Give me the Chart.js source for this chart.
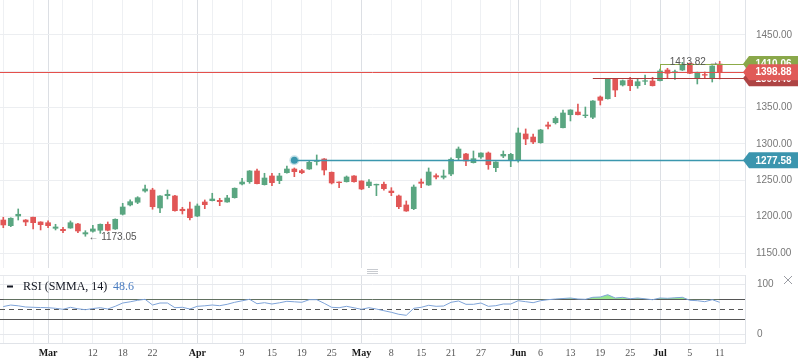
<!DOCTYPE html>
<html>
<head>
<meta charset="utf-8">
<script src="https://cdn.jsdelivr.net/npm/chart.js@4"></script>
<style>
html, body { margin: 0; padding: 0; background: #fff; }
#wrap { position: relative; width: 798px; height: 363px; overflow: hidden; }
canvas { position: absolute; left: 0; }
#price { top: 0; }
#rsi { top: 268px; }
</style>
</head>
<body>
<div id="wrap">
  <canvas id="price" width="798" height="268"></canvas>
  <canvas id="rsi" width="798" height="95"></canvas>
</div>
<script>
// daily bars, Feb 21 - Jul 11
const dates = [
  'Feb 21','Feb 22','Feb 25','Feb 26','Feb 27','Feb 28',
  'Mar 1','Mar 5','Mar 6','Mar 7','Mar 8','Mar 11','Mar 12','Mar 13','Mar 14','Mar 15','Mar 18','Mar 19','Mar 20','Mar 21','Mar 22','Mar 25','Mar 26','Mar 27','Mar 28','Mar 29',
  'Apr 1','Apr 2','Apr 3','Apr 4','Apr 5','Apr 8','Apr 9','Apr 10','Apr 11','Apr 12','Apr 15','Apr 16','Apr 17','Apr 18','Apr 19','Apr 22','Apr 23','Apr 24','Apr 25','Apr 26','Apr 29','Apr 30',
  'May 2','May 3','May 6','May 7','May 8','May 9','May 10','May 13','May 15','May 16','May 17','May 20','May 21','May 22','May 23','May 24','May 27','May 28','May 29','May 30','May 31',
  'Jun 3','Jun 4','Jun 5','Jun 6','Jun 7','Jun 10','Jun 11','Jun 13','Jun 14','Jun 17','Jun 18','Jun 19','Jun 20','Jun 21','Jun 24','Jun 25','Jun 26','Jun 27','Jun 28',
  'Jul 1','Jul 2','Jul 3','Jul 4','Jul 5','Jul 8','Jul 9','Jul 10','Jul 11'
];

const opens = [
  1195.4,1187.6,1200.9,1195.4,1199.2,1192.7,1191.7,1184.0,1182.6,1184.4,
  1189.9,1176.2,1179.9,1181.3,1189.5,1183.1,1203.3,1216.1,1219.8,1235.3,
  1236.7,1212.0,1228.9,1228.5,1210.2,1210.6,1200.9,1220.2,1222.0,1222.5,
  1220.2,1226.1,1245.0,1248.1,1262.9,1244.0,1256.0,1249.5,1260.5,1265.6,
  1263.3,1265.6,1275.9,1279.4,1261.1,1247.7,1248.1,1256.0,1249.1,1242.6,
  1243.6,1244.6,1235.3,1228.5,1216.1,1211.0,1247.7,1243.6,1256.4,1254.2,
  1258.7,1281.2,1286.3,1274.3,1282.1,1287.6,1267.4,1283.5,1278.0,1278.0,
  1313.8,1309.6,1301.8,1326.2,1329.3,1322.4,1340.3,1344.0,1339.0,1336.8,
  1364.7,1362.3,1389.5,1381.2,1388.1,1380.2,1386.3,1386.7,1387.1,1401.8,
  1398.1,1401.8,1411.1,1391.2,1395.6,1390.4,1410.06
];
const highs = [
  1199.2,1198.5,1210.6,1196.0,1199.5,1193.0,1194.1,1189.5,1185.4,1194.1,
  1190.9,1180.7,1188.1,1190.0,1192.7,1197.0,1218.4,1223.0,1227.5,1243.6,
  1239.1,1229.0,1236.7,1229.4,1212.9,1220.2,1217.5,1223.0,1232.2,1225.3,
  1229.4,1239.6,1252.8,1263.5,1265.6,1259.7,1259.7,1259.7,1269.7,1267.0,
  1265.2,1277.0,1284.9,1280.0,1261.5,1247.8,1256.0,1256.5,1249.5,1250.9,
  1244.8,1247.7,1239.9,1229.8,1221.6,1243.6,1251.9,1267.0,1259.1,1264.2,
  1280.8,1295.9,1287.0,1290.4,1288.0,1289.0,1275.6,1290.4,1287.2,1322.0,
  1320.7,1313.8,1320.2,1330.3,1337.6,1346.8,1347.2,1355.1,1350.9,1359.6,
  1366.1,1390.4,1390.0,1388.1,1391.8,1389.5,1395.0,1391.8,1403.2,1404.2,
  1401.8,1412.4,1411.5,1399.0,1399.1,1407.8,1413.82
];
const lows = [
  1184.8,1186.2,1195.4,1187.6,1183.1,1181.7,1184.8,1181.7,1178.0,1184.0,
  1178.0,1173.05,1178.5,1177.1,1180.5,1182.5,1202.3,1214.7,1217.9,1233.6,
  1210.2,1205.5,1224.3,1207.5,1203.7,1195.4,1200.0,1211.0,1221.6,1215.1,
  1219.8,1225.5,1243.6,1245.9,1245.0,1243.5,1242.6,1245.4,1260.0,1255.0,
  1259.1,1265.0,1271.1,1257.4,1245.0,1239.9,1247.6,1247.5,1237.1,1239.9,
  1228.9,1236.3,1228.9,1211.0,1207.3,1209.6,1239.9,1243.0,1251.9,1251.9,
  1256.4,1278.4,1270.2,1273.8,1280.3,1265.2,1261.9,1281.2,1268.8,1275.0,
  1299.1,1300.4,1301.0,1320.7,1327.5,1322.0,1331.7,1340.0,1336.2,1334.8,
  1353.7,1361.8,1365.1,1379.8,1373.4,1376.7,1381.6,1379.8,1386.7,1390.4,
  1389.0,1401.0,1396.8,1382.6,1390.8,1385.3,1389.5
];
const closes = [
  1188.6,1197.8,1203.3,1192.7,1191.7,1189.0,1187.6,1185.8,1180.7,1191.7,
  1180.3,1178.0,1183.1,1189.5,1181.3,1196.4,1213.3,1220.6,1226.1,1238.1,
  1213.7,1228.5,1230.8,1208.2,1208.2,1198.6,1214.7,1216.5,1224.3,1220.6,
  1225.7,1239.1,1247.7,1262.9,1245.4,1253.2,1246.8,1256.0,1265.6,1261.9,
  1260.5,1274.8,1277.0,1264.2,1246.4,1246.8,1254.6,1248.1,1238.1,1247.7,
  1244.6,1238.5,1233.0,1213.7,1207.8,1240.8,1245.9,1261.5,1254.6,1256.0,
  1279.0,1293.1,1276.6,1279.8,1287.6,1271.5,1275.2,1285.8,1285.8,1315.2,
  1306.9,1302.8,1319.3,1324.4,1335.4,1342.7,1346.8,1340.3,1339.9,1359.2,
  1360.1,1389.5,1374.3,1387.1,1380.2,1385.7,1387.1,1380.2,1400.5,1397.3,
  1399.5,1408.7,1397.3,1398.7,1394.7,1407.3,1398.88
];

const rsi = [
  55.5,58.5,57.0,54.6,54.0,53.5,53.2,52.0,50.0,54.0,
  51.0,49.2,51.5,53.2,50.6,56.0,62.6,65.0,68.0,70.0,
  58.6,62.6,62.6,53.2,54.0,50.6,56.0,57.0,58.6,57.2,
  60.0,64.0,67.0,70.0,61.2,63.2,60.6,63.0,66.0,65.0,
  64.0,69.2,69.2,62.0,54.0,53.2,56.0,53.0,50.0,53.2,
  50.5,47.2,44.0,40.0,38.0,52.0,54.0,58.0,56.0,56.6,
  64.0,66.6,60.0,60.0,62.6,56.0,57.2,60.6,60.6,67.2,
  65.2,63.2,67.2,69.2,70.6,71.6,72.6,70.6,70.0,74.0,
  74.6,79.2,72.6,74.0,71.2,72.6,71.0,69.2,72.6,72.0,
  73.0,74.0,68.0,67.2,65.2,69.2,64.0
];
const rsiReadout = 48.6;
const rsiLevels = [70, 50, 30];

const priceTicks = [1150, 1200, 1250, 1300, 1350, 1400, 1450];
const rsiTicks = [0, 100];
const gridIdx = [0,4,6,8,12,16,20,24,26,28,32,36,40,44,48,52,56,60,64,68,69,72,76,80,84,88,92,96];
const unlabeled = [0, 4, 8, 24, 28, 68];

const lastClose = 1398.88;
const rangeTop = 1410.06, rangeFrom = 88;
const prevLevel = 1390.40, prevFrom = 79;
const support = 1277.58, supportFrom = 39;
const periodHigh = 1413.82, highIdx = 96;
const periodLow = 1173.05, lowIdx = 11;

const UP = '#5aa681', DOWN = '#e15656';
const idx = dates.map((d, i) => i);
const colors = idx.map(i => closes[i] >= opens[i] ? UP : DOWN);
const isMonthStart = i => i > 0 && i < dates.length && dates[i].slice(0, 3) !== dates[i - 1].slice(0, 3);
const tickMonth = c => !!(c && c.tick && isMonthStart(c.tick.value));
const AXIS_FONT = { family: 'Liberation Sans', size: 10 };
const X_MIN = -0.442, X_MAX = 99.39;

// keep Chart.js from reserving room for the edge tick labels
const fixBox = (w, h) => s => {
  if (w !== null) s.width = w;
  if (h !== null) s.height = h;
  s.paddingTop = 0; s.paddingBottom = 0; s.paddingLeft = 0; s.paddingRight = 0;
};

function xAxis(showLabels) {
  return {
    type: 'linear', min: X_MIN, max: X_MAX, offset: false,
    afterBuildTicks: s => { s.ticks = gridIdx.map(v => ({ value: v })); },
    afterFit: fixBox(null, showLabels ? 16 : 0),
    grid: {
      offset: false, drawTicks: false,
      color: c => tickMonth(c) ? '#dcdfe4' : '#eef0f3'
    },
    border: { color: '#e0e3e8' },
    ticks: {
      display: showLabels, autoSkip: false, maxRotation: 0, padding: 4,
      callback: v => {
        if (unlabeled.includes(v)) return '';
        const [m, d] = dates[v].split(' ');
        return isMonthStart(v) ? m : d;
      },
      font: c => ({ family: 'Liberation Serif', size: 10, weight: tickMonth(c) ? 'bold' : 'normal' }),
      color: c => tickMonth(c) ? '#1a1a1a' : '#555'
    }
  };
}

function tag(ctx, left, right, cy, bg, text) {
  ctx.save();
  ctx.fillStyle = bg;
  ctx.beginPath();
  ctx.moveTo(left - 2, cy);
  ctx.lineTo(left + 4, cy - 8);
  ctx.lineTo(right, cy - 8);
  ctx.lineTo(right, cy + 8);
  ctx.lineTo(left + 4, cy + 8);
  ctx.closePath();
  ctx.fill();
  ctx.fillStyle = '#fff';
  ctx.font = 'bold 10px "Liberation Sans"';
  ctx.textAlign = 'center';
  ctx.textBaseline = 'middle';
  ctx.fillText(text, (left + 4 + right) / 2, cy + 0.5);
  ctx.restore();
}

const priceOverlay = {
  id: 'priceOverlay',
  afterDatasetsDraw(chart) {
    const { ctx, chartArea: a, scales: { x, y } } = chart;
    const hline = (from, value, color, w) => {
      const py = Math.round(y.getPixelForValue(value)) + 0.5;
      ctx.save();
      ctx.strokeStyle = color; ctx.lineWidth = w;
      ctx.beginPath();
      ctx.moveTo(from === null ? a.left : x.getPixelForValue(from), py);
      ctx.lineTo(a.right, py);
      ctx.stroke();
      ctx.restore();
    };
    hline(prevFrom, prevLevel, '#b03b3b', 1);
    hline(null, lastClose, '#e4504c', 1);
    hline(rangeFrom, rangeTop, '#8cab48', 1);
    // short riser of the range line
    ctx.save();
    ctx.strokeStyle = '#8cab48'; ctx.lineWidth = 1;
    const rx = Math.round(x.getPixelForValue(rangeFrom)) + 0.5;
    ctx.beginPath();
    ctx.moveTo(rx, y.getPixelForValue(rangeTop));
    ctx.lineTo(rx, y.getPixelForValue(closes[rangeFrom]));
    ctx.stroke();
    ctx.restore();
    hline(supportFrom, support, '#3b97ae', 1.5);

    // anchor point of the support line
    const dx = x.getPixelForValue(supportFrom), dy = y.getPixelForValue(support);
    ctx.save();
    ctx.fillStyle = 'rgba(59,151,174,0.3)';
    ctx.beginPath(); ctx.arc(dx, dy, 5, 0, Math.PI * 2); ctx.fill();
    ctx.fillStyle = '#3b97ae';
    ctx.beginPath(); ctx.arc(dx, dy, 3.5, 0, Math.PI * 2); ctx.fill();

    // high / low markers
    ctx.font = '10px "Liberation Sans"';
    ctx.textBaseline = 'middle';
    ctx.fillStyle = '#555';
    const hx = x.getPixelForValue(highIdx), hy = y.getPixelForValue(periodHigh);
    ctx.textAlign = 'right';
    ctx.fillText(periodHigh.toFixed(2) + ' \u2192', hx - 1, hy + 1);
    const lx = x.getPixelForValue(lowIdx), ly = y.getPixelForValue(periodLow);
    ctx.textAlign = 'left';
    ctx.fillText('\u2190 ' + periodLow.toFixed(2), lx + 3, ly + 1);
    ctx.restore();
  },
  afterDraw(chart) {
    const { ctx, scales: { y } } = chart;
    const L = y.left, R = chart.width;
    tag(ctx, L, R, y.getPixelForValue(prevLevel), '#ae4444', prevLevel.toFixed(2));
    tag(ctx, L, R, y.getPixelForValue(rangeTop), '#8aa84a', rangeTop.toFixed(2));
    tag(ctx, L, R, y.getPixelForValue(lastClose), '#e05a58', lastClose.toFixed(2));
    tag(ctx, L, R, y.getPixelForValue(support), '#3b95ae', support.toFixed(2));
  }
};

new Chart(document.getElementById('price'), {
  type: 'bar',
  data: {
    datasets: [
      {
        data: idx.map(i => ({ x: i, y: [lows[i], highs[i]] })),
        backgroundColor: colors, barThickness: 1, grouped: false, order: 2
      },
      {
        data: idx.map(i => ({ x: i, y: [Math.min(opens[i], closes[i]), Math.max(opens[i], closes[i])] })),
        backgroundColor: colors, barThickness: 5, grouped: false, order: 1
      }
    ]
  },
  options: {
    responsive: false, animation: false, devicePixelRatio: 1, events: [],
    layout: { padding: 0 },
    plugins: { legend: { display: false }, tooltip: { enabled: false } },
    scales: {
      x: xAxis(false),
      y: {
        position: 'right', min: 1129.36, max: 1498.16,
        afterBuildTicks: s => { s.ticks = priceTicks.map(v => ({ value: v })); },
        afterFit: fixBox(53, null),
        grid: { drawTicks: false, color: '#eceef1' },
        border: { color: '#e0e3e8' },
        ticks: { padding: 11, color: '#777', font: AXIS_FONT, callback: v => v.toFixed(2) }
      }
    }
  },
  plugins: [priceOverlay]
});

const rsiOverlay = {
  id: 'rsiOverlay',
  beforeDatasetsDraw(chart) {
    const { ctx, chartArea: a, scales: { y } } = chart;
    ctx.save();
    ctx.strokeStyle = '#555'; ctx.lineWidth = 1;
    rsiLevels.forEach(v => {
      const py = Math.round(y.getPixelForValue(v)) + 0.5;
      ctx.setLineDash(v === 50 ? [5, 4] : []);
      ctx.beginPath(); ctx.moveTo(a.left, py); ctx.lineTo(a.right, py); ctx.stroke();
    });
    ctx.restore();
  },
  afterDraw(chart) {
    const { ctx } = chart;
    ctx.save();
    // pane resize handle
    ctx.strokeStyle = '#c8cbd0'; ctx.lineWidth = 1;
    [1.5, 3.5, 5.5].forEach(py => {
      ctx.beginPath(); ctx.moveTo(367, py); ctx.lineTo(378, py); ctx.stroke();
    });
    // close icon
    ctx.strokeStyle = '#9a9ca3';
    ctx.beginPath();
    ctx.moveTo(784, 8); ctx.lineTo(792, 16);
    ctx.moveTo(792, 8); ctx.lineTo(784, 16);
    ctx.stroke();
    // legend
    ctx.fillStyle = '#131722';
    ctx.fillRect(7, 17.5, 6, 2);
    ctx.font = '12px "Liberation Serif"';
    ctx.textBaseline = 'middle';
    ctx.fillText('RSI (SMMA, 14)', 23, 18.5);
    ctx.fillStyle = '#4a7cc0';
    ctx.fillText(rsiReadout.toFixed(1), 113, 18.5);
    ctx.restore();
  }
};

const RSI_MIN = -17.4, RSI_MAX = 118.6;
new Chart(document.getElementById('rsi'), {
  type: 'line',
  data: {
    datasets: [{
      data: idx.map(i => ({ x: i, y: rsi[i] })),
      borderColor: '#7ea3d8', borderWidth: 1, pointRadius: 0, tension: 0,
      fill: { target: { value: 70 }, above: '#96e58f', below: 'rgba(0,0,0,0)' }
    }]
  },
  options: {
    responsive: false, animation: false, devicePixelRatio: 1, events: [],
    layout: { padding: { top: 7, bottom: 4 } },
    plugins: { legend: { display: false }, tooltip: { enabled: false } },
    scales: {
      x: xAxis(true),
      y: {
        position: 'right', min: RSI_MIN, max: RSI_MAX,
        afterBuildTicks: s => { s.ticks = [RSI_MIN, ...rsiTicks, RSI_MAX].map(v => ({ value: v })); },
        afterFit: fixBox(53, null),
        grid: { drawTicks: false, color: '#e6e8ec' },
        border: { color: '#e0e3e8' },
        ticks: { padding: 12, color: '#777', font: AXIS_FONT, callback: v => rsiTicks.includes(v) ? String(v) : '' }
      }
    }
  },
  plugins: [rsiOverlay]
});
</script>
</body>
</html>
